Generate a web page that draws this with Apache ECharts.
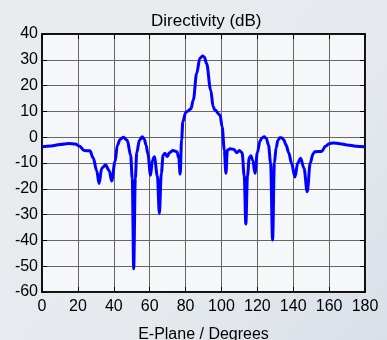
<!DOCTYPE html>
<html>
<head>
<meta charset="utf-8">
<script src="https://cdn.jsdelivr.net/npm/echarts@6/dist/echarts.min.js"></script>
<style>
  html, body { margin: 0; padding: 0; }
  #chart { width: 387px; height: 340px; }
</style>
</head>
<body>
<div id="chart"></div>
<script>
// E-plane angle (degrees) and directivity (dB)
var angles = [
  0, 5, 10, 15, 18.5, 21, 23.5, 26.7, 28.5, 30.5, 31.8, 33.3, 35.4, 37.5, 38.8,
  40.7, 42, 43.5, 45.3, 47.5, 49.4, 50.3, 51.1, 52, 52.8, 54.3, 55.8, 57, 58, 59,
  60.5, 61.5, 62.6, 64.3, 65.4, 66.5, 67.5, 68.5, 69.8, 71, 73, 75.2, 76.2, 77,
  77.8, 78.5, 80, 81, 83, 84.3, 86.2, 88, 89.5, 90.5, 91.7, 94, 95.4, 96.4, 99.2,
  100.4, 101.6, 102.5, 103.3, 105, 107, 108.5, 110, 111.5, 112.7, 113.6, 114.5,
  115.5, 116.4, 117.5, 118.7, 120, 121.5, 122.5, 123.8, 125, 126.2, 127.4, 128.5,
  129.5, 130.5, 131.5, 132.5, 133.5, 134.7, 136, 137.5, 139, 141, 142.5, 144.1,
  146, 147.8, 149.5, 151, 152, 155.8, 158, 160, 162.3, 166, 170, 175, 180
];
var directivity = [
  -3.7, -3.4, -2.8, -2.4, -2.6, -3.5, -5.2, -5.3, -8, -13, -17.9, -12, -10.8, -13, -17,
  -9.5, -3.1, -0.9, 0, -1.2, -7, -16, -51, -16, -6, -1.2, 0.2, -0.8, -3, -6.5,
  -14.7, -9, -7.6, -15, -29.5, -14, -7, -6.2, -7.5, -6, -5.2, -5.6, -8, -14.3,
  -1, 6, 9.5, 10, 11, 14.4, 24.8, 30.6, 31.5, 31, 28.6, 18.3, 11.8, 10.5, 8.6,
  4, -5, -14, -5, -4.5, -4.8, -6, -5.2, -6, -15, -33.6, -15,
  -8, -7.2, -9, -14, -6, -1.5, -0.3, 0.2, -0.5, -3, -10, -39.8,
  -10, -4, -1.2, -0.2, -0.2, -1, -3, -6, -10, -15.4, -10, -8.2,
  -12, -21.1, -10, -6.5, -5.6, -5.5, -3.5, -2.5, -2.2, -2.5, -3, -3.5, -3.7
];

var points = angles.map(function(a, i) {
  return [a, directivity[i]]
})

var font = 'Liberation Sans, Arial, sans-serif'

var option = {
  backgroundColor: {
    type: 'linear', x: 0, y: 0, x2: 1, y2: 1,
    colorStops: [
      { offset: 0, color: '#e9ecef' },
      { offset: 0.6, color: '#e6eaee' },
      { offset: 1, color: '#d9e0e8' }
    ]
  },
  animation: false,
  title: {
    text: 'Directivity (dB)',
    left: 146,
    top: 8,
    textStyle: { fontFamily: font, fontSize: 17, fontWeight: 'normal', color: '#000' }
  },
  grid: {
    left: 42, top: 34, right: 22, bottom: 48,
    outerBoundsMode: 'none',
    show: true,
    backgroundColor: '#f6f7f8',
    borderColor: '#000',
    borderWidth: 1.5
  },
  xAxis: [{
    type: 'value',
    min: 0, max: 180, interval: 20,
    name: 'E-Plane / Degrees',
    nameLocation: 'middle',
    nameGap: 35,
    nameTextStyle: { fontFamily: font, fontSize: 16, color: '#000' },
    axisLine: { onZero: false, lineStyle: { color: '#000', width: 1.5 } },
    axisTick: { inside: true, length: 5, lineStyle: { color: '#000' } },
    axisLabel: { fontFamily: font, fontSize: 16, color: '#000', margin: 7 },
    splitLine: { lineStyle: { color: '#666', width: 1 } }
  }, {
    type: 'value', position: 'top',
    min: 0, max: 180, interval: 20,
    axisLine: { onZero: false, lineStyle: { color: '#000', width: 1.5 } },
    axisTick: { inside: true, length: 5, lineStyle: { color: '#000' } },
    axisLabel: { show: false },
    splitLine: { show: false }
  }],
  yAxis: [{
    type: 'value',
    min: -60, max: 40, interval: 10,
    axisLine: { show: true, onZero: false, lineStyle: { color: '#000', width: 1.5 } },
    axisTick: { show: true, inside: true, length: 5, lineStyle: { color: '#000' } },
    axisLabel: { fontFamily: font, fontSize: 16, color: '#000', margin: 4 },
    splitLine: { lineStyle: { color: '#666', width: 1 } }
  }, {
    type: 'value', position: 'right',
    min: -60, max: 40, interval: 10,
    axisLine: { show: true, onZero: false, lineStyle: { color: '#000', width: 1.5 } },
    axisTick: { show: true, inside: true, length: 5, lineStyle: { color: '#000' } },
    axisLabel: { show: false },
    splitLine: { show: false }
  }],
  series: [{
    type: 'line',
    data: points,
    smooth: 0.35,
    smoothMonotone: 'x',
    showSymbol: false,
    lineStyle: { color: '#0000ff', width: 3 },
    clip: true
  }]
}

var myChart = echarts.init(document.getElementById('chart'))
myChart.setOption(option)
</script>
</body>
</html>
